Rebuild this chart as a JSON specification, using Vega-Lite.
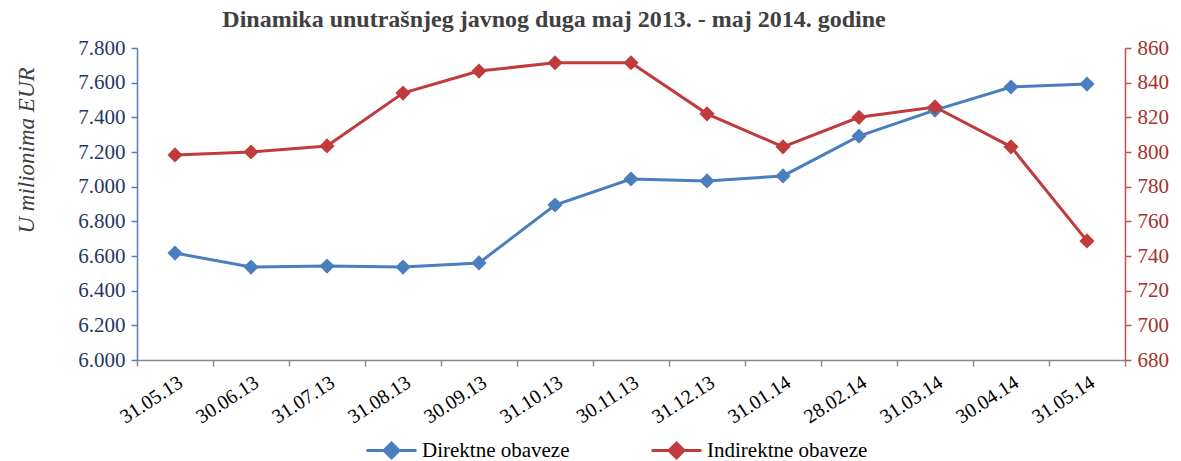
{
  "$schema": "https://vega.github.io/schema/vega-lite/v6.json",
  "width": 988,
  "height": 312,
  "autosize": {"type": "none"},
  "padding": {"left": 137, "top": 48, "right": 56, "bottom": 101},
  "background": "white",
  "config": {"view": {"stroke": null}, "font": "Liberation Serif"},
  "title": {
    "text": "Dinamika unutrašnjeg javnog duga maj 2013. - maj 2014. godine",
    "font": "Liberation Serif", "fontSize": 24, "fontWeight": "bold", "color": "#404040",
    "dx": -77, "offset": 5
  },
  "data": {"values": [
    {"d": "31.05.13", "dir": 6617, "ind": 798.3},
    {"d": "30.06.13", "dir": 6536, "ind": 800.0},
    {"d": "31.07.13", "dir": 6542, "ind": 803.5},
    {"d": "31.08.13", "dir": 6536, "ind": 834.0},
    {"d": "30.09.13", "dir": 6560, "ind": 846.7},
    {"d": "31.10.13", "dir": 6894, "ind": 851.5},
    {"d": "30.11.13", "dir": 7044, "ind": 851.5},
    {"d": "31.12.13", "dir": 7033, "ind": 822.0},
    {"d": "31.01.14", "dir": 7062, "ind": 803.0},
    {"d": "28.02.14", "dir": 7292, "ind": 820.0},
    {"d": "31.03.14", "dir": 7442, "ind": 826.0},
    {"d": "30.04.14", "dir": 7575, "ind": 803.0},
    {"d": "31.05.14", "dir": 7592, "ind": 748.7}
  ]},
  "encoding": {
    "x": {
      "field": "d", "type": "ordinal", "sort": null, "bandPosition": 0.5,
      "scale": {"type": "band", "paddingInner": 0, "paddingOuter": 0},
      "axis": {
        "title": null, "labelAngle": -33, "labelFontSize": 20, "labelFont": "Liberation Serif",
        "labelColor": "#000000", "domainColor": "#898989", "tickColor": "#898989",
        "tickSize": 6, "tickBand": "extent", "labelPadding": 6, "domainWidth": 1.5, "tickWidth": 1.5
      }
    }
  },
  "layer": [
    {
      "mark": {"type": "line", "strokeWidth": 3, "point": {"shape": "diamond", "size": 230, "filled": true, "opacity": 1}},
      "encoding": {
        "y": {
          "field": "dir", "type": "quantitative",
          "scale": {"domain": [6000, 7800], "nice": false, "zero": false},
          "axis": {
            "title": "U milionima EUR", "titleFont": "Liberation Serif", "titleFontStyle": "italic",
            "titleFontWeight": "normal", "titleFontSize": 23, "titleColor": "#404040",
            "titleX": -122, "titleY": 102, "titleAngle": -90, "titleBaseline": "top",
            "values": [6000, 6200, 6400, 6600, 6800, 7000, 7200, 7400, 7600, 7800],
            "labelExpr": "replace(format(datum.value, ',.0f'), ',', '.')",
            "labelFontSize": 21, "labelColor": "#1F3864", "labelFont": "Liberation Serif",
            "domainColor": "#4F81BD", "tickColor": "#4F81BD", "domainWidth": 1.5, "tickWidth": 1.5,
            "tickSize": 6, "grid": false, "labelPadding": 6
          }
        },
        "color": {
          "datum": "Direktne obaveze",
          "scale": {"domain": ["Direktne obaveze", "Indirektne obaveze"], "range": ["#4A7EBF", "#C03B3B"]},
          "legend": {
            "title": null, "orient": "none", "direction": "horizontal", "legendX": 228, "legendY": 376,
            "symbolType": "M-1,0L1,0M0,-0.3L0.3,0L0,0.3L-0.3,0Z", "symbolSize": 2500, "symbolStrokeWidth": 3,
            "labelFont": "Liberation Serif", "labelFontSize": 21, "labelColor": "#000000",
            "labelLimit": 400, "columnPadding": 75, "labelOffset": 4,
            "encode": {"symbols": {"update": {"stroke": {"field": "value", "scale": "color"}, "strokeWidth": {"value": 3}, "fill": {"field": "value", "scale": "color"}}}}
          }
        }
      }
    },
    {
      "mark": {"type": "line", "strokeWidth": 3, "point": {"shape": "diamond", "size": 230, "filled": true, "opacity": 1}},
      "encoding": {
        "y": {
          "field": "ind", "type": "quantitative",
          "scale": {"domain": [680, 860], "nice": false, "zero": false},
          "axis": {
            "orient": "right", "title": null,
            "values": [680, 700, 720, 740, 760, 780, 800, 820, 840, 860],
            "labelFontSize": 21, "labelColor": "#A5322F", "labelFont": "Liberation Serif",
            "domainColor": "#C0504D", "tickColor": "#C0504D", "domainWidth": 1.5, "tickWidth": 1.5,
            "tickSize": 6, "grid": false, "labelPadding": 6
          }
        },
        "color": {"datum": "Indirektne obaveze"}
      }
    }
  ],
  "resolve": {"scale": {"y": "independent"}}
}
